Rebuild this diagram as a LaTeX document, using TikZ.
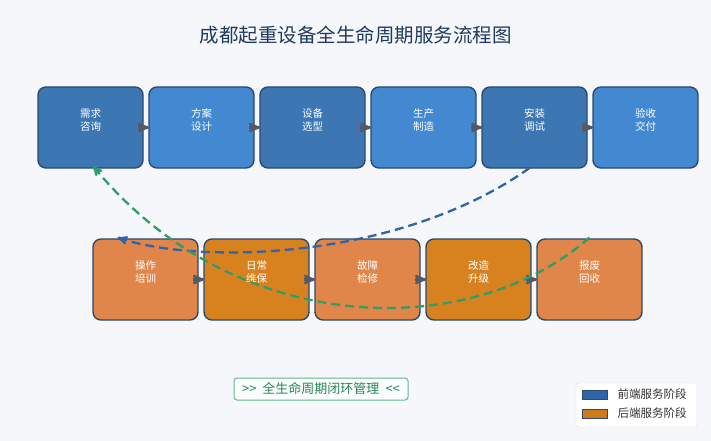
\documentclass[tikz,border=0pt]{standalone}
\usepackage{fontspec}
\setmainfont{Noto Sans CJK SC}
\usetikzlibrary{arrows,positioning}
\definecolor{bgcol}{HTML}{F5F7FA}
\definecolor{frontdark}{HTML}{3C77B4}
\definecolor{frontlight}{HTML}{4289D1}
\definecolor{backlight}{HTML}{E0864A}
\definecolor{backdark}{HTML}{D8821F}
\definecolor{edgecol}{HTML}{2B4A6D}
\definecolor{flowgray}{HTML}{555A60}
\definecolor{loopblue}{HTML}{2E64A8}
\definecolor{loopgreen}{HTML}{2E9E68}
\definecolor{titlecol}{HTML}{1F3A5F}
\newcommand{\stagetxt}[2]{\raisebox{6pt}[\height][\depth]{\begin{tabular}{@{}c@{}}#1\\[-1pt]#2\end{tabular}}}

\begin{document}
\begin{tikzpicture}[x=1pt,y=-1pt,>=stealth',node distance=6pt,
  stage node/.style={rectangle,rounded corners=8pt,draw=edgecol,line width=1.4pt,outer sep=0pt,
    minimum width=105pt,minimum height=81pt,inner sep=0pt,text=white,
    font=\fontsize{10.5}{14}\selectfont},
  front node/.style={stage node,fill=frontdark},
  front light node/.style={stage node,fill=frontlight},
  back node/.style={stage node,fill=backlight},
  back dark node/.style={stage node,fill=backdark},
  key node/.style={rectangle,draw=edgecol,line width=0.6pt,minimum width=25pt,minimum height=9pt,inner sep=0pt},
  key text/.style={anchor=west,text=black!80,font=\fontsize{11.5}{13}\selectfont,inner sep=0pt}]

  \useasboundingbox[fill=bgcol] (0,0) rectangle (711,441);

  \node (title) at (355.5,35) [text=titlecol,font=\fontsize{19.5}{22}\selectfont] {成都起重设备全生命周期服务流程图};

  % front-end stages
  \node[front node] (f1) at (90.5,127.5) {\stagetxt{需求}{咨询}};
  \node[front light node] (f2) [right=of f1] {\stagetxt{方案}{设计}};
  \node[front node] (f3) [right=of f2] {\stagetxt{设备}{选型}};
  \node[front light node] (f4) [right=of f3] {\stagetxt{生产}{制造}};
  \node[front node] (f5) [right=of f4] {\stagetxt{安装}{调试}};
  \node[front light node] (f6) [right=of f5] {\stagetxt{验收}{交付}};

  % back-end stages
  \node[back node] (r1) at (145.5,279.5) {\stagetxt{操作}{培训}};
  \node[back dark node] (r2) [right=of r1] {\stagetxt{日常}{维保}};
  \node[back node] (r3) [right=of r2] {\stagetxt{故障}{检修}};
  \node[back dark node] (r4) [right=of r3] {\stagetxt{改造}{升级}};
  \node[back node] (r5) [right=of r4] {\stagetxt{报废}{回收}};

  \path[->,draw=flowgray,line width=2.6pt,shorten <=-5pt]
    (f1) edge (f2)
    (f2) edge (f3)
    (f3) edge (f4)
    (f4) edge (f5)
    (f5) edge (f6)
    (r1) edge (r2)
    (r2) edge (r3)
    (r3) edge (r4)
    (r4) edge (r5);

  % loop back
  \draw[->,loopblue,line width=2.3pt,dash pattern=on 9pt off 5pt]
    ([xshift=-5pt]f5.south) .. controls (400,260) and (200,265) .. ([xshift=-28pt,yshift=1.5pt]r1.north);
  \draw[->,loopgreen,line width=2.3pt,dash pattern=on 9pt off 5pt]
    ([yshift=1.5pt]r5.north) .. controls (470,343) and (235,338) .. ([xshift=2.5pt,yshift=2pt]f1.south);

  \node (loop) at (321,389) [rectangle,rounded corners=3pt,draw=loopgreen!75,line width=1pt,fill=white!60!bgcol,
    minimum width=174pt,minimum height=22pt,inner sep=0pt,text=loopgreen!85!black,
    font=\fontsize{13}{15}\selectfont] {>{}>\hspace{6pt}全生命周期闭环管理\hspace{6pt}<{}<};

  % legend
  \node (legend) at (636.5,405) [rectangle,rounded corners=2pt,draw=black!15,fill=white,
    minimum width=121pt,minimum height=44pt] {};
  \node[key node,fill=loopblue] (k1) at (594.5,394.5) {};
  \node[key node,fill=backdark!95!black] (k2) at (594.5,413.5) {};
  \node[key text] (t1) [right=10pt of k1] {前端服务阶段};
  \node[key text] (t2) [right=10pt of k2] {后端服务阶段};
\end{tikzpicture}
\end{document}
